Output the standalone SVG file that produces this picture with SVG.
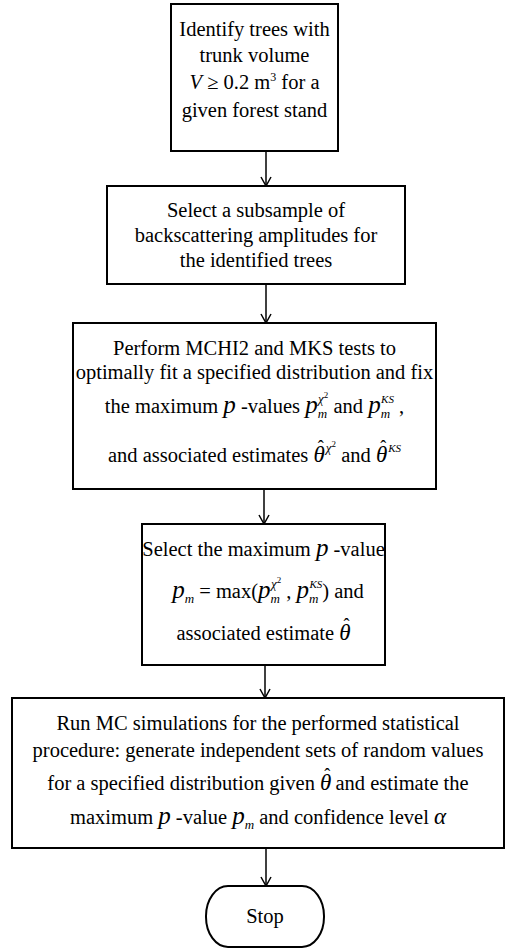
<svg xmlns="http://www.w3.org/2000/svg" width="506" height="948" viewBox="0 0 506 948">
<defs>
<style>
.box{fill:#fff;stroke:#000;stroke-width:2}
.t{font-family:'Liberation Serif','Times New Roman',serif;font-size:20.5px;fill:#000}
.mi{font-style:italic}
.c{stroke:#000;stroke-width:1.5;fill:none}
</style>
<marker id="ah" markerWidth="12" markerHeight="12" refX="10" refY="6" orient="auto" markerUnits="userSpaceOnUse">
<path d="M1,1 L10,6 L1,11" fill="none" stroke="#000" stroke-width="1.5"/>
</marker>
</defs>
<rect width="506" height="948" fill="#fff"/>
<g id="connectors">
<line class="c" x1="266" y1="151" x2="266" y2="186" marker-end="url(#ah)"/>
<line class="c" x1="266" y1="284" x2="266" y2="323" marker-end="url(#ah)"/>
<line class="c" x1="264" y1="489" x2="264" y2="524" marker-end="url(#ah)"/>
<line class="c" x1="265" y1="665" x2="265" y2="698" marker-end="url(#ah)"/>
<line class="c" x1="266" y1="848" x2="266" y2="886" marker-end="url(#ah)"/>
</g>
<g id="n1">
<rect class="box" x="171" y="4" width="167" height="147"/>
<text class="t" x="254.5" y="36" text-anchor="middle">Identify trees with</text>
<text class="t" x="254.5" y="62" text-anchor="middle">trunk volume</text>
<text class="t" x="254.5" y="89" text-anchor="middle"><tspan class="mi">V</tspan> ≥ 0.2 m<tspan font-size="12" dy="-8">3</tspan><tspan dy="8">  for a</tspan></text>
<text class="t" x="254.5" y="117" text-anchor="middle">given forest stand</text>
</g>
<g id="n2">
<rect class="box" x="107" y="186" width="298" height="98"/>
<text class="t" x="256" y="217" text-anchor="middle">Select a subsample of</text>
<text class="t" x="256" y="242" text-anchor="middle">backscattering amplitudes for</text>
<text class="t" x="256" y="267" text-anchor="middle">the identified trees</text>
</g>
<g id="n3">
<rect class="box" x="73" y="323" width="363" height="166"/>
<text class="t" x="254.5" y="355" text-anchor="middle">Perform MCHI2 and MKS tests to</text>
<text class="t" x="254.5" y="379" text-anchor="middle">optimally fit a specified distribution and fix</text>
<text class="t" x="254.5" y="413" text-anchor="middle">the maximum  <tspan class="mi" font-size="25">p</tspan> -values  <tspan class="mi" font-size="25">p</tspan><tspan class="mi" font-size="13" dy="5">m</tspan><tspan class="mi" font-size="13" dx="-9" dy="-15">χ</tspan><tspan font-size="9" dy="-5">2</tspan><tspan dy="15">  and </tspan><tspan class="mi" font-size="25">p</tspan><tspan class="mi" font-size="13" dy="5">m</tspan><tspan class="mi" font-size="11" dx="-9" dy="-15">KS</tspan><tspan dy="10"> ,</tspan></text>
<text class="t" x="254.5" y="462" text-anchor="middle">and associated estimates <tspan class="mi" font-size="23">θ</tspan><tspan font-size="18" dx="-7" dy="-9">ˆ</tspan><tspan class="mi" font-size="13" dx="2" dy="-1">χ</tspan><tspan font-size="9" dy="-5">2</tspan><tspan dy="15">  and  </tspan><tspan class="mi" font-size="23">θ</tspan><tspan font-size="18" dx="-7" dy="-9">ˆ</tspan><tspan class="mi" font-size="11" dx="2" dy="-1">KS</tspan></text>
</g>
<g id="n4">
<rect class="box" x="142" y="524" width="243" height="141"/>
<text class="t" x="263.5" y="556" text-anchor="middle">Select the maximum  <tspan class="mi" font-size="25">p</tspan> -value</text>
<text class="t" x="268" y="598" text-anchor="middle"><tspan class="mi" font-size="25">p</tspan><tspan class="mi" font-size="13" dy="5">m</tspan><tspan dy="-5"> = max(</tspan><tspan class="mi" font-size="25">p</tspan><tspan class="mi" font-size="13" dy="5">m</tspan><tspan class="mi" font-size="13" dx="-9" dy="-15">χ</tspan><tspan font-size="9" dy="-5">2</tspan><tspan dy="15"> , </tspan><tspan class="mi" font-size="25">p</tspan><tspan class="mi" font-size="13" dy="5">m</tspan><tspan class="mi" font-size="11" dx="-9" dy="-15">KS</tspan><tspan dy="10">)  and</tspan></text>
<text class="t" x="263.5" y="640" text-anchor="middle">associated estimate  <tspan class="mi" font-size="23">θ</tspan><tspan font-size="18" dx="-7" dy="-9">ˆ</tspan></text>
</g>
<g id="n5">
<rect class="box" x="12" y="698" width="492" height="150"/>
<text class="t" x="258" y="730" text-anchor="middle">Run MC simulations for the performed statistical</text>
<text class="t" x="258" y="757" text-anchor="middle">procedure: generate independent sets of random values</text>
<text class="t" x="258" y="790" text-anchor="middle">for a specified distribution given  <tspan class="mi" font-size="23">θ</tspan><tspan font-size="18" dx="-7" dy="-9">ˆ</tspan><tspan dy="9">  and estimate the</tspan></text>
<text class="t" x="258" y="824" text-anchor="middle">maximum  <tspan class="mi" font-size="25">p</tspan> -value  <tspan class="mi" font-size="25">p</tspan><tspan class="mi" font-size="13" dy="5">m</tspan><tspan dy="-5">  and confidence level  </tspan><tspan class="mi" font-size="23">α</tspan></text>
</g>
<g id="stop">
<rect class="box" x="206" y="886" width="118" height="61" rx="22" ry="30"/>
<text class="t" x="265" y="923" text-anchor="middle">Stop</text>
</g>
</svg>
